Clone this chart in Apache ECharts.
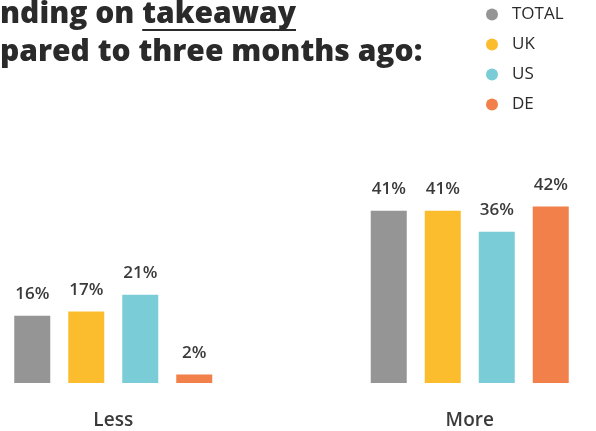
<!DOCTYPE html>
<html><head><meta charset="utf-8">
<script src="https://cdn.jsdelivr.net/npm/echarts@6/dist/echarts.min.js"></script>
<style>html,body{margin:0;padding:0;background:#fff;overflow:hidden;width:596px;height:431px;position:relative}#c{position:absolute;left:-100px;top:0;width:800px;height:431px}</style>
</head><body><div id="c"></div>
<script>
const categories = ['Less', 'More'];
const seriesNames = ['TOTAL', 'UK', 'US', 'DE'];
const totalVals = [16, 41];
const ukVals = [17, 41];
const usVals = [21, 36];
const deVals = [2, 42];
const titleLine1 = 'nding on ';
const titleUnderlined = 'takeaway';
const titleLine2 = 'pared to three months ago:';
const colors = ['#959595', '#FBBD2E', '#7ACCD6', '#F2804A'];

const OFF = 100; // container is shifted left by this amount
const chart = echarts.init(document.getElementById('c'));
const allVals = [totalVals, ukVals, usVals, deVals];
const FONT = '"Open Sans", Lato, sans-serif';
const cv = document.createElement('canvas').getContext('2d');
cv.font = '800 30px "Open Sans"';
const fs = Math.round(30 * 423 / cv.measureText(titleLine2).width * 10) / 10;
cv.font = '800 ' + fs + 'px "Open Sans"';
const w1 = cv.measureText(titleLine1).width;
const wU = cv.measureText(titleUnderlined).width;
const titleStyle = {fontFamily: FONT, fontWeight: 800, fontSize: fs, fill: '#2a2a2a'};

chart.setOption({
  animation: false,
  color: colors,
  legend: {
    orient: 'vertical', left: OFF + 481, top: 1,
    icon: 'circle', itemWidth: 12, itemHeight: 12, itemGap: 13,
    textStyle: {fontFamily: FONT, fontSize: 17, color: '#2a2a2a', padding: [0,0,0,9]},
    data: seriesNames
  },
  graphic: [
    {type: 'text', x: OFF, y: -1, style: Object.assign({text: titleLine1 + titleUnderlined}, titleStyle)},
    {type: 'rect', shape: {x: OFF + w1, y: 29, width: wU, height: 2}, style: {fill: '#2a2a2a'}},
    {type: 'text', x: OFF, y: 37, style: Object.assign({text: titleLine2}, titleStyle)}
  ],
  grid: {left: OFF - 65, right: 52, top: 173, bottom: 48},
  xAxis: {
    type: 'category', data: categories,
    axisLine: {show: false}, axisTick: {show: false},
    axisLabel: {margin: 28, fontFamily: FONT, fontSize: 19, fontWeight: 600, color: '#3a3a3a'}
  },
  yAxis: {type: 'value', min: 0, max: 50, show: false, splitLine: {show: false}},
  series: seriesNames.map((n, i) => ({
    name: n, type: 'bar', data: allVals[i], barWidth: 36, barGap: '50%',
    label: {show: true, position: 'top', distance: 13, formatter: '{c}%',
      fontFamily: FONT, fontSize: 17, fontWeight: 600, color: '#3a3a3a'}
  }))
});
</script></body></html>
